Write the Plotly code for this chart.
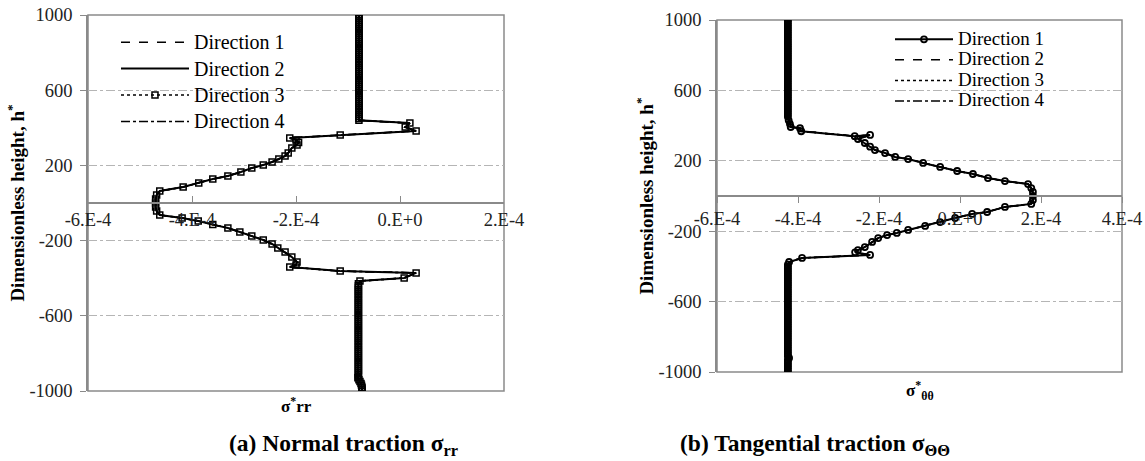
import plotly.graph_objects as go

SERIF = "Liberation Serif, Times New Roman, serif"

# ---------------- (a) Normal traction sigma*_rr ----------------
h_rr = [1000, 990, 980, 970, 960, 950, 940, 930, 920, 910,
        900, 890, 880, 870, 860, 850, 840, 830, 820, 810,
        800, 790, 780, 770, 760, 750, 740, 730, 720, 710,
        700, 690, 680, 670, 660, 650, 640, 630, 620, 610,
        600, 590, 580, 570, 560, 550, 540, 530, 520, 510,
        500, 490, 480, 470, 460, 450, 440,
        425, 404, 383, 362,
        346, 335, 322, 309, 293, 266, 250, 234, 218, 202, 186, 165, 144, 128, 106, 85,
        64, 43, 21, 0, -21, -43, -64,
        -80, -96, -115, -133, -154, -176, -197, -218, -239, -261, -287, -314, -330, -340,
        -362, -372, -399, -415,
        -430, -440, -450, -460, -470, -480, -490, -500, -510, -520,
        -530, -540, -550, -560, -570, -580, -590, -600, -610, -620,
        -630, -640, -650, -660, -670, -680, -690, -700, -710, -720,
        -730, -740, -750, -760, -770, -780, -790, -800, -810, -820,
        -830, -840, -850, -860, -870, -880, -890, -900, -910, -920,
        -930, -940, -950, -960, -970, -980, -990, -1000]

s_rr = [-7.9e-5, -7.9e-5, -7.9e-5, -7.9e-5, -7.9e-5, -7.9e-5, -7.9e-5, -7.9e-5, -7.9e-5, -7.9e-5,
        -7.9e-5, -7.9e-5, -7.9e-5, -7.9e-5, -7.9e-5, -7.9e-5, -7.9e-5, -7.9e-5, -7.9e-5, -7.9e-5,
        -7.9e-5, -7.9e-5, -7.9e-5, -7.9e-5, -7.9e-5, -7.9e-5, -7.9e-5, -7.9e-5, -7.9e-5, -7.9e-5,
        -7.9e-5, -7.9e-5, -7.9e-5, -7.9e-5, -7.9e-5, -7.9e-5, -7.9e-5, -7.9e-5, -7.9e-5, -7.9e-5,
        -7.9e-5, -7.9e-5, -7.9e-5, -7.9e-5, -7.9e-5, -7.9e-5, -7.9e-5, -7.9e-5, -7.9e-5, -7.9e-5,
        -7.9e-5, -7.9e-5, -7.9e-5, -7.9e-5, -7.9e-5, -7.9e-5, -7.9e-5,
        1.9e-5, 1.0e-5, 3.1e-5, -1.15e-4,
        -2.12e-4, -2.0e-4, -1.95e-4, -1.98e-4, -2.08e-4, -2.15e-4, -2.21e-4, -2.33e-4, -2.46e-4,
        -2.63e-4, -2.85e-4, -3.06e-4, -3.31e-4, -3.60e-4, -3.87e-4, -4.17e-4,
        -4.62e-4, -4.68e-4, -4.70e-4, -4.70e-4, -4.70e-4, -4.68e-4, -4.62e-4,
        -4.19e-4, -3.88e-4, -3.60e-4, -3.31e-4, -3.08e-4, -2.85e-4, -2.63e-4, -2.46e-4, -2.35e-4,
        -2.21e-4, -2.08e-4, -1.98e-4, -2.0e-4, -2.12e-4,
        -1.15e-4, 3.1e-5, 8.0e-6, -7.7e-5,
        -8.0e-5, -8.0e-5, -8.0e-5, -8.0e-5, -8.0e-5, -8.0e-5, -8.0e-5, -8.0e-5, -8.0e-5, -8.0e-5,
        -8.0e-5, -8.0e-5, -8.0e-5, -8.0e-5, -8.0e-5, -8.0e-5, -8.0e-5, -8.0e-5, -8.0e-5, -8.0e-5,
        -8.0e-5, -8.0e-5, -8.0e-5, -8.0e-5, -8.0e-5, -8.0e-5, -8.0e-5, -8.0e-5, -8.0e-5, -8.0e-5,
        -8.0e-5, -8.0e-5, -8.0e-5, -8.0e-5, -8.0e-5, -8.0e-5, -8.0e-5, -8.0e-5, -8.0e-5, -8.0e-5,
        -8.0e-5, -8.0e-5, -8.0e-5, -8.0e-5, -8.0e-5, -8.0e-5, -8.0e-5, -8.0e-5, -8.0e-5, -8.0e-5,
        -8.1e-5, -7.9e-5, -7.7e-5, -7.5e-5, -7.4e-5, -7.3e-5, -7.3e-5, -7.3e-5]

# ---------------- (b) Tangential traction sigma*_tt ----------------
h_tt = [1000, 990, 980, 970, 960, 950, 940, 930, 920, 910,
        900, 890, 880, 870, 860, 850, 840, 830, 820, 810,
        800, 790, 780, 770, 760, 750, 740, 730, 720, 710,
        700, 690, 680, 670, 660, 650, 640, 630, 620, 610,
        600, 590, 580, 570, 560, 550, 540, 530, 520, 510,
        500, 490, 480, 470, 460, 450,
        430, 410, 392, 385, 368, 340, 347, 324, 301, 280, 261, 244, 222, 210, 188, 165, 142,
        125, 102, 85, 68,
        45, 23, 0, -23, -45,
        -62, -91, -102, -125, -148, -170, -193, -210, -222, -239, -261, -290, -307, -320,
        -335, -352, -375,
        -390, -400, -410, -420, -430, -440, -450, -460, -470, -480,
        -490, -500, -510, -520, -530, -540, -550, -560, -570, -580,
        -590, -600, -610, -620, -630, -640, -650, -660, -670, -680,
        -690, -700, -710, -720, -730, -740, -750, -760, -770, -780,
        -790, -800, -810, -820, -830, -840, -850, -860, -870, -880,
        -890, -900, -910, -920, -930, -940, -950, -960, -970, -980,
        -990, -1000]

s_tt = [-4.25e-4, -4.25e-4, -4.25e-4, -4.25e-4, -4.25e-4, -4.25e-4, -4.25e-4, -4.25e-4, -4.25e-4, -4.25e-4,
        -4.25e-4, -4.25e-4, -4.25e-4, -4.25e-4, -4.25e-4, -4.25e-4, -4.25e-4, -4.25e-4, -4.25e-4, -4.25e-4,
        -4.25e-4, -4.25e-4, -4.25e-4, -4.25e-4, -4.25e-4, -4.25e-4, -4.25e-4, -4.25e-4, -4.25e-4, -4.25e-4,
        -4.25e-4, -4.25e-4, -4.25e-4, -4.25e-4, -4.25e-4, -4.25e-4, -4.25e-4, -4.25e-4, -4.25e-4, -4.25e-4,
        -4.25e-4, -4.25e-4, -4.25e-4, -4.25e-4, -4.25e-4, -4.25e-4, -4.25e-4, -4.25e-4, -4.25e-4, -4.25e-4,
        -4.25e-4, -4.25e-4, -4.25e-4, -4.25e-4, -4.25e-4, -4.25e-4,
        -4.23e-4, -4.2e-4, -4.18e-4, -3.95e-4, -3.92e-4, -2.6e-4, -2.22e-4, -2.52e-4, -2.35e-4, -2.22e-4,
        -2.1e-4, -1.85e-4, -1.6e-4, -1.28e-4, -9.1e-5, -4.9e-5, -7.0e-6,
        3.2e-5, 6.9e-5, 1.11e-4, 1.68e-4,
        1.76e-4, 1.8e-4, 1.8e-4, 1.8e-4, 1.76e-4,
        1.11e-4, 6.7e-5, 3.0e-5, -1.2e-5, -4.9e-5, -8.6e-5, -1.28e-4, -1.56e-4, -1.8e-4, -2.02e-4,
        -2.17e-4, -2.35e-4, -2.52e-4, -2.59e-4,
        -2.22e-4, -3.9e-4, -4.22e-4,
        -4.25e-4, -4.25e-4, -4.25e-4, -4.25e-4, -4.25e-4, -4.25e-4, -4.25e-4, -4.25e-4, -4.25e-4, -4.25e-4,
        -4.25e-4, -4.25e-4, -4.25e-4, -4.25e-4, -4.25e-4, -4.25e-4, -4.25e-4, -4.25e-4, -4.25e-4, -4.25e-4,
        -4.25e-4, -4.25e-4, -4.25e-4, -4.25e-4, -4.25e-4, -4.25e-4, -4.25e-4, -4.25e-4, -4.25e-4, -4.25e-4,
        -4.25e-4, -4.25e-4, -4.25e-4, -4.25e-4, -4.25e-4, -4.25e-4, -4.25e-4, -4.25e-4, -4.25e-4, -4.25e-4,
        -4.25e-4, -4.25e-4, -4.25e-4, -4.25e-4, -4.25e-4, -4.25e-4, -4.25e-4, -4.25e-4, -4.25e-4, -4.25e-4,
        -4.25e-4, -4.25e-4, -4.25e-4, -4.22e-4, -4.25e-4, -4.25e-4, -4.25e-4, -4.25e-4, -4.25e-4, -4.25e-4,
        -4.25e-4, -4.25e-4]

directions = ["Direction 1", "Direction 2", "Direction 3", "Direction 4"]
dash_rr = ["dash", "solid", "dot", "dashdot"]
dash_tt = ["solid", "dash", "dot", "dashdot"]

x_ticks_rr = [-6e-4, -4e-4, -2e-4, 0, 2e-4]
x_text_rr = ["-6.E-4", "-4.E-4", "-2.E-4", "0.E+0", "2.E-4"]
x_ticks_tt = [-6e-4, -4e-4, -2e-4, 0, 2e-4, 4e-4]
x_text_tt = ["-6.E-4", "-4.E-4", "-2.E-4", "0.E+0", "2.E-4", "4.E-4"]
y_ticks = [-1000, -600, -200, 200, 600, 1000]
y_text = ["-1000", "-600", "-200", "200", "600", "1000"]

W, H = 1145, 461

def fx(px):
    return px / W

def fy(py):
    return 1 - py / H

fig = go.Figure()

for i, name in enumerate(directions):
    mk = dict(symbol="square-open", size=6, color="black", line=dict(width=1.5, color="black")) if i == 2 else None
    fig.add_trace(go.Scatter(
        x=s_rr, y=h_rr, xaxis="x", yaxis="y", legend="legend",
        mode="lines+markers" if i == 2 else "lines",
        name='<span style="font-size:20px">' + name + '</span>',
        line=dict(color="black", width=2 if i == 1 else 1.5, dash=dash_rr[i]),
        marker=mk,
    ))

for i, name in enumerate(directions):
    mk = dict(symbol="circle-open", size=6, color="black", line=dict(width=1.8, color="black")) if i == 0 else None
    fig.add_trace(go.Scatter(
        x=s_tt, y=h_tt, xaxis="x2", yaxis="y2", legend="legend2",
        mode="lines+markers" if i == 0 else "lines",
        name='<span style="font-size:19px">' + name + '</span>',
        line=dict(color="black", width=2 if i == 0 else 1.5, dash=dash_tt[i]),
        marker=mk,
    ))

AX = "#8a8a8a"
tickfont = dict(family=SERIF, size=18.5, color="#222")
ytitle = dict(text="<b>Dimensionless height, h<sup>*</sup></b>", font=dict(family=SERIF, size=19, color="black"), standoff=0)

common_y = dict(range=[-1000, 1000], tickvals=y_ticks, ticktext=y_text, ticks="outside", ticklen=6, tickcolor=AX,
                showline=True, linecolor=AX, linewidth=1.5, showgrid=True, gridcolor="#b5b5b5",
                griddash="dashdot", gridwidth=1, zeroline=False, tickfont=tickfont, title=ytitle,
                ticklabelstandoff=4, automargin=False)

fig.update_layout(
    width=W, height=H,
    margin=dict(l=0, r=0, t=0, b=0, autoexpand=False),
    paper_bgcolor="white", plot_bgcolor="white",
    font=dict(family=SERIF, color="black"),
    xaxis=dict(domain=[fx(88), fx(504)], range=[-6e-4, 2e-4], tickvals=x_ticks_rr, ticktext=x_text_rr,
               anchor="free", position=fy(203), showline=True, linecolor=AX, linewidth=1.5,
               ticks="inside", ticklen=6, tickcolor=AX, showgrid=False, zeroline=False, tickfont=tickfont,
               automargin=False),
    yaxis=dict(domain=[fy(391), fy(15)], anchor="x", **common_y),
    xaxis2=dict(domain=[fx(717), fx(1122)], range=[-6e-4, 4e-4], tickvals=x_ticks_tt, ticktext=x_text_tt,
                anchor="free", position=fy(196), showline=True, linecolor=AX, linewidth=1.5,
                ticks="outside", ticklen=6, tickcolor=AX, showgrid=False, zeroline=False, tickfont=tickfont,
                automargin=False),
    yaxis2=dict(domain=[fy(372), fy(20)], anchor="x2", **common_y),
    legend=dict(x=fx(116), y=fy(24), xanchor="left", yanchor="top", bgcolor="rgba(0,0,0,0)",
                font=dict(family=SERIF, size=18, color="black"), itemwidth=68, tracegroupgap=0),
    legend2=dict(x=fx(890), y=fy(24), xanchor="left", yanchor="top", bgcolor="rgba(0,0,0,0)",
                 font=dict(family=SERIF, size=13.5, color="black"), itemwidth=58, tracegroupgap=0),
    showlegend=True,
)

# plot frames
for xd, yd in (("x domain", "y domain"), ("x2 domain", "y2 domain")):
    fig.add_shape(type="rect", xref=xd, yref=yd, x0=0, x1=1, y0=0, y1=1,
                  line=dict(color=AX, width=1.5), layer="below")

# x-axis titles and captions
ann = dict(xref="paper", yref="paper", showarrow=False, xanchor="center", yanchor="middle")
fig.add_annotation(x=fx(296), y=fy(405), text="<b>σ<sup>*</sup>rr</b>",
                   font=dict(family=SERIF, size=17, color="black"), **ann)
fig.add_annotation(x=fx(920), y=fy(390), text="<b>σ<sup>*</sup><sub>θθ</sub></b>",
                   font=dict(family=SERIF, size=17, color="black"), **ann)
fig.add_annotation(x=fx(343), y=fy(445), text="<b>(a) Normal traction σ<sub>rr</sub></b>",
                   font=dict(family=SERIF, size=23.5, color="black"), **ann)
fig.add_annotation(x=fx(815), y=fy(445), text="<b>(b) Tangential traction σ<sub>ΘΘ</sub></b>",
                   font=dict(family=SERIF, size=23.5, color="black"), **ann)

fig.write_html("out.html")
